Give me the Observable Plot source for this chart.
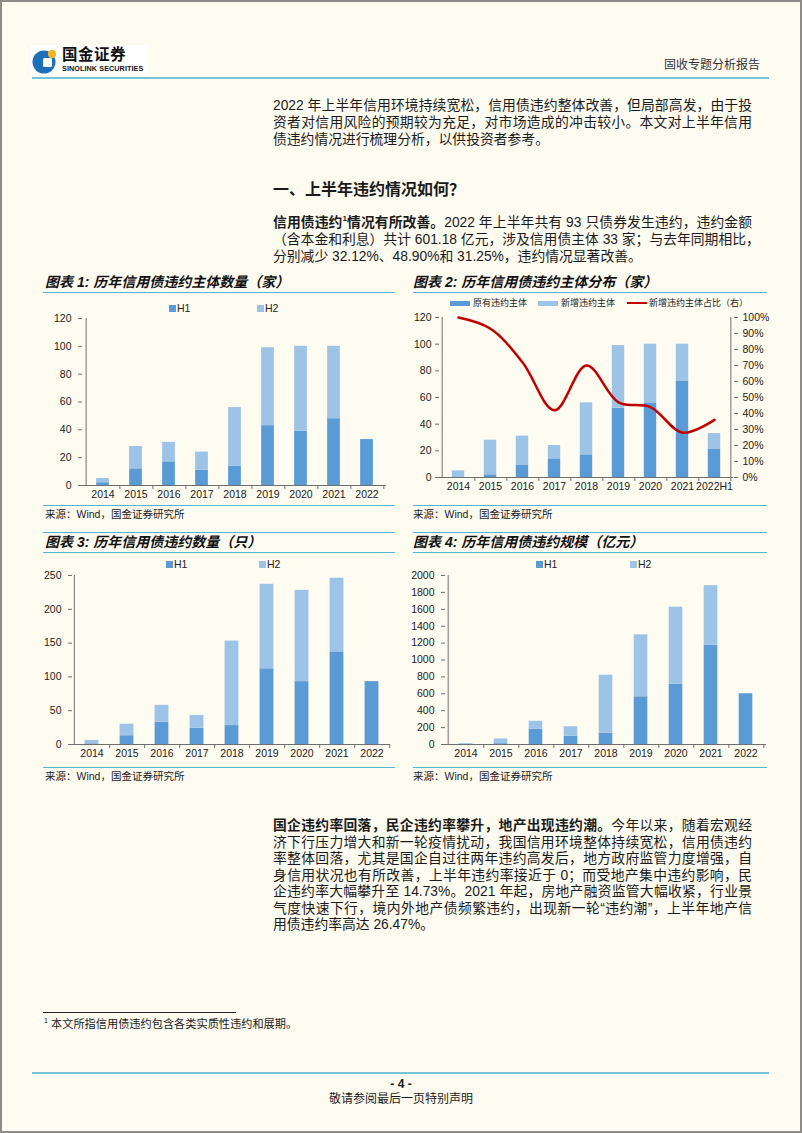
<!DOCTYPE html>
<html><head><meta charset="utf-8">
<script src="https://cdn.jsdelivr.net/npm/d3@7"></script>
<script src="https://cdn.jsdelivr.net/npm/@observablehq/plot@0.6"></script>
<style>
html,body{margin:0;padding:0;background:#fefbf1;}
#page{position:relative;width:802px;height:1133px;background:#fefbf1;overflow:hidden;font-family:"Liberation Sans","Noto Sans CJK SC",sans-serif;color:#1a1a1a;}
#border{position:absolute;left:0;top:0;width:802px;height:1133px;box-sizing:border-box;border:2px solid #8d8b86;pointer-events:none;}
.abs{position:absolute;white-space:nowrap;}
.ln{position:absolute;left:273px;width:479px;white-space:nowrap;font-size:13.8px;height:17px;line-height:17px;text-align:justify;text-align-last:justify;}
.ln.last{text-align:left;text-align-last:left;}
.hr{position:absolute;height:0;}
.ctitle{position:absolute;font-size:14px;font-weight:bold;font-style:italic;white-space:nowrap;line-height:16px;color:#111;}
.src{position:absolute;font-size:10.5px;white-space:nowrap;line-height:12px;color:#222;}
.leg{position:absolute;font-size:10.5px;white-space:nowrap;line-height:12px;color:#222;}
.sw{position:absolute;}
.chart{position:absolute;}
b{font-weight:bold;}
</style></head>
<body>
<div id="page">
  <!-- header -->
  <div class="abs" style="left:30px;top:45px;width:118px;height:30px;background:#ffffff;"></div>
  <svg class="abs" style="left:32px;top:48px" width="26" height="26" viewBox="0 0 26 26">
    <circle cx="12" cy="14" r="11.5" fill="#1e6fb9"/>
    <rect x="11" y="10" width="9" height="9" rx="1.5" fill="#ffffff"/>
    <circle cx="20" cy="6" r="4.2" fill="#f5b324"/>
  </svg>
  <div class="abs" style="left:62px;top:46px;font-size:15.5px;font-weight:bold;letter-spacing:0.5px;color:#111;line-height:18px;">国金证券</div>
  <div class="abs" style="left:62px;top:64px;font-size:7.2px;font-weight:bold;color:#111;line-height:9px;letter-spacing:0.1px;">SINOLINK SECURITIES</div>
  <div class="abs" style="right:42px;top:58px;font-size:12px;color:#333;line-height:14px;">固收专题分析报告</div>
  <div class="hr" style="left:32px;top:77px;width:737px;border-top:2px solid #74c3da;"></div>

  <!-- paragraph 1 -->
  <div class="ln" style="top:97px">2022 年上半年信用环境持续宽松，信用债违约整体改善，但局部高发，由于投</div>
  <div class="ln" style="top:114px">资者对信用风险的预期较为充足，对市场造成的冲击较小。本文对上半年信用</div>
  <div class="ln last" style="top:131px">债违约情况进行梳理分析，以供投资者参考。</div>

  <div class="abs" style="left:273px;top:180px;font-size:16px;font-weight:bold;line-height:20px;">一、上半年违约情况如何？</div>

  <div class="ln" style="top:214px"><b>信用债违约<sup style="font-size:8px;line-height:0">1</sup>情况有所改善。</b>2022 年上半年共有 93 只债券发生违约，违约金额</div>
  <div class="ln" style="top:231px">（含本金和利息）共计 601.18 亿元，涉及信用债主体 33 家；与去年同期相比，</div>
  <div class="ln last" style="top:248px">分别减少 32.12%、48.90%和 31.25%，违约情况显著改善。</div>

  <!-- chart 1 frame -->
  <div class="ctitle" style="left:45px;top:274px">图表 1: 历年信用债违约主体数量（家）</div>
  <div class="hr" style="left:43px;top:292px;width:352px;border-top:1.5px solid #55b4d0;"></div>
  <div class="hr" style="left:43px;top:505px;width:352px;border-top:1.5px solid #55b4d0;"></div>
  <div class="src" style="left:45px;top:508px">来源：Wind，国金证券研究所</div>
  <div class="sw" style="left:169px;top:305px;width:7px;height:7px;background:#5b9bd5"></div>
  <div class="leg" style="left:177px;top:302px">H1</div>
  <div class="sw" style="left:257px;top:305px;width:7px;height:7px;background:#9dc3e6"></div>
  <div class="leg" style="left:265px;top:302px">H2</div>
  <div class="chart" id="c1" style="left:40px;top:296px"></div>

  <!-- chart 2 frame -->
  <div class="ctitle" style="left:413px;top:274px">图表 2: 历年信用债违约主体分布（家）</div>
  <div class="hr" style="left:413px;top:292px;width:354px;border-top:1.5px solid #55b4d0;"></div>
  <div class="hr" style="left:413px;top:505px;width:354px;border-top:1.5px solid #55b4d0;"></div>
  <div class="src" style="left:413px;top:508px">来源：Wind，国金证券研究所</div>
  <div class="sw" style="left:450px;top:301px;width:20px;height:5px;background:#5b9bd5"></div>
  <div class="leg" style="left:473px;top:297px;font-size:9px">原有违约主体</div>
  <div class="sw" style="left:538px;top:301px;width:20px;height:5px;background:#9dc3e6"></div>
  <div class="leg" style="left:561px;top:297px;font-size:9px">新增违约主体</div>
  <div class="sw" style="left:627px;top:302px;width:20px;height:2px;background:#c00000"></div>
  <div class="leg" style="left:649px;top:297px;font-size:9px">新增违约主体占比（右）</div>
  <div class="chart" id="c2" style="left:404px;top:296px"></div>

  <!-- chart 3 frame -->
  <div class="hr" style="left:43px;top:532px;width:352px;border-top:1.5px solid #55b4d0;"></div>
  <div class="ctitle" style="left:45px;top:534px">图表 3: 历年信用债违约数量（只）</div>
  <div class="hr" style="left:43px;top:552px;width:352px;border-top:1.5px solid #55b4d0;"></div>
  <div class="hr" style="left:43px;top:767px;width:352px;border-top:1.5px solid #55b4d0;"></div>
  <div class="src" style="left:45px;top:770px">来源：Wind，国金证券研究所</div>
  <div class="sw" style="left:166px;top:561px;width:7px;height:7px;background:#5b9bd5"></div>
  <div class="leg" style="left:174px;top:558px">H1</div>
  <div class="sw" style="left:259px;top:561px;width:7px;height:7px;background:#9dc3e6"></div>
  <div class="leg" style="left:267px;top:558px">H2</div>
  <div class="chart" id="c3" style="left:30px;top:556px"></div>

  <!-- chart 4 frame -->
  <div class="hr" style="left:413px;top:532px;width:354px;border-top:1.5px solid #55b4d0;"></div>
  <div class="ctitle" style="left:413px;top:534px">图表 4: 历年信用债违约规模（亿元）</div>
  <div class="hr" style="left:413px;top:552px;width:354px;border-top:1.5px solid #55b4d0;"></div>
  <div class="hr" style="left:413px;top:767px;width:354px;border-top:1.5px solid #55b4d0;"></div>
  <div class="src" style="left:413px;top:770px">来源：Wind，国金证券研究所</div>
  <div class="sw" style="left:536px;top:561px;width:7px;height:7px;background:#5b9bd5"></div>
  <div class="leg" style="left:544px;top:558px">H1</div>
  <div class="sw" style="left:630px;top:561px;width:7px;height:7px;background:#9dc3e6"></div>
  <div class="leg" style="left:638px;top:558px">H2</div>
  <div class="chart" id="c4" style="left:404px;top:556px"></div>

  <!-- paragraph 3 -->
  <div class="ln" style="top:817px"><b>国企违约率回落，民企违约率攀升，地产出现违约潮。</b>今年以来，随着宏观经</div>
  <div class="ln" style="top:833.5px">济下行压力增大和新一轮疫情扰动，我国信用环境整体持续宽松，信用债违约</div>
  <div class="ln" style="top:850px">率整体回落，尤其是国企自过往两年违约高发后，地方政府监管力度增强，自</div>
  <div class="ln" style="top:866.5px">身信用状况也有所改善，上半年违约率接近于 0；而受地产集中违约影响，民</div>
  <div class="ln" style="top:883px">企违约率大幅攀升至 14.73%。2021 年起，房地产融资监管大幅收紧，行业景</div>
  <div class="ln" style="top:899.5px">气度快速下行，境内外地产债频繁违约，出现新一轮“违约潮”，上半年地产信</div>
  <div class="ln last" style="top:916px">用债违约率高达 26.47%。</div>

  <!-- footnote -->
  <div class="hr" style="left:43px;top:1012px;width:193px;border-top:1px solid #222;"></div>
  <div class="abs" style="left:44px;top:1017px;font-size:11.2px;line-height:14px;"><sup style="font-size:7px;line-height:0">1</sup> 本文所指信用债违约包含各类实质性违约和展期。</div>

  <!-- footer -->
  <div class="hr" style="left:32px;top:1072px;width:737px;border-top:2px solid #74c3da;"></div>
  <div class="abs" style="left:0;width:802px;top:1077px;text-align:center;font-size:12px;font-weight:bold;line-height:14px;">- 4 -</div>
  <div class="abs" style="left:0;width:802px;top:1092px;text-align:center;font-size:12px;line-height:14px;">敬请参阅最后一页特别声明</div>

  <div id="border"></div>
</div>

<script>
// ---------- data ----------
const years = ["2014","2015","2016","2017","2018","2019","2020","2021","2022"];
const years2 = ["2014","2015","2016","2017","2018","2019","2020","2021","2022H1"];

// 图表1 违约主体数量（家）
const issuerH1 = [2, 12, 17, 11, 14, 43, 39, 48, 33];
const issuerH2 = [3, 16, 14, 13, 42, 56, 61, 52, 0];

// 图表2 违约主体分布（家）
const issuerOld = [0, 2, 9, 14, 17, 52, 56, 72, 21];
const issuerNew = [5, 26, 22, 10, 39, 47, 44, 28, 12];
const newShare = [100, 93, 72, 42, 70, 47, 44, 28, 36]; // %

// 图表3 违约数量（只）
const bondH1 = [1, 13, 33, 24, 28, 112, 93, 137, 93];
const bondH2 = [5, 17, 25, 19, 125, 125, 135, 109, 0];

// 图表4 违约规模（亿元）
const amtH1 = [3, 10, 180, 97, 135, 565, 713, 1176, 601];
const amtH2 = [8, 56, 95, 113, 685, 732, 912, 704, 0];

const ticks1 = [0, 20, 40, 60, 80, 100, 120];
const ticks2R = [0, 10, 20, 30, 40, 50, 60, 70, 80, 90, 100];
const ticks3 = [0, 50, 100, 150, 200, 250];
const ticks4 = [0, 200, 400, 600, 800, 1000, 1200, 1400, 1600, 1800, 2000];

const DARK = "#5b9bd5", LIGHT = "#9dc3e6", RED = "#c00000", AXIS = "#6f6f6f";

function stacked(o) {
  const rows = [];
  o.cats.forEach((c, i) => {
    rows.push({cat: c, s: o.names[0], v: o.a[i]});
    rows.push({cat: c, s: o.names[1], v: o.b[i]});
  });
  const step = (o.width - o.ml - o.mr) / o.cats.length;
  const inset = step * 0.3;
  const last = o.cats[o.cats.length - 1];
  const marks = [
    Plot.barY(rows, {x: "cat", y: "v", fill: "s", insetLeft: inset, insetRight: inset}),
    Plot.ruleY([0], {stroke: AXIS}),
    Plot.ruleX([o.cats[0]], {x: d => d, dx: -step / 2, y1: 0, y2: o.ymax, stroke: AXIS}),
    Plot.ruleX(o.cats, {x: d => d, dx: step / 2, y1: 0, y2: 0, insetBottom: -4, stroke: AXIS}),
    Plot.axisY({ticks: o.yticks, tickSize: 4, tickPadding: o.pad, stroke: AXIS, tickFormat: d => String(d), label: null}),
    Plot.axisX({tickSize: 0, tickPadding: 5, label: null})
  ];
  if (o.extra) marks.push(...o.extra(step, last));
  const svg = Plot.plot({
    width: o.width, height: o.height,
    marginLeft: o.ml, marginRight: o.mr, marginTop: o.mt, marginBottom: o.mb,
    style: {background: "transparent", fontFamily: "'Liberation Sans', Arial, sans-serif", fontSize: "10.5px", color: "#222", overflow: "visible"},
    x: {type: "band", domain: o.cats, padding: 0, label: null},
    y: {domain: [0, o.ymax], label: null},
    color: {domain: o.names, range: [DARK, LIGHT]},
    marks
  });
  document.getElementById(o.id).appendChild(svg);
}

stacked({id: "c1", width: 356, height: 214, ml: 42, mr: 10, mt: 22, mb: 25,
  cats: years, a: issuerH1, b: issuerH2, names: ["H1", "H2"], ymax: 120, yticks: ticks1, pad: 7});

const shareRows = years2.map((c, i) => ({cat: c, r: newShare[i] * 1.2}));
stacked({id: "c2", width: 375, height: 208, ml: 35, mr: 46, mt: 21, mb: 27,
  cats: years2, a: issuerOld, b: issuerNew, names: ["原有违约主体", "新增违约主体"], ymax: 120, yticks: ticks1, pad: 4,
  extra: (step, last) => [
    Plot.ruleX([last], {x: d => d, dx: step / 2, y1: 0, y2: 120, stroke: AXIS}),
    Plot.axisY({anchor: "right", ticks: ticks2R.map(t => t * 1.2), tickFormat: v => Math.round(v / 1.2) + "%", tickSize: 4, tickPadding: 5, stroke: AXIS, label: null}),
    Plot.line(shareRows, {x: "cat", y: "r", stroke: RED, strokeWidth: 2.5, curve: "catmull-rom"})
  ]});

stacked({id: "c3", width: 366, height: 209, ml: 42, mr: 6, mt: 19, mb: 21,
  cats: years, a: bondH1, b: bondH2, names: ["H1", "H2"], ymax: 250, yticks: ticks3, pad: 7});

stacked({id: "c4", width: 368, height: 209, ml: 41, mr: 6, mt: 19, mb: 21,
  cats: years, a: amtH1, b: amtH2, names: ["H1", "H2"], ymax: 2000, yticks: ticks4, pad: 7});
</script>
</body></html>
